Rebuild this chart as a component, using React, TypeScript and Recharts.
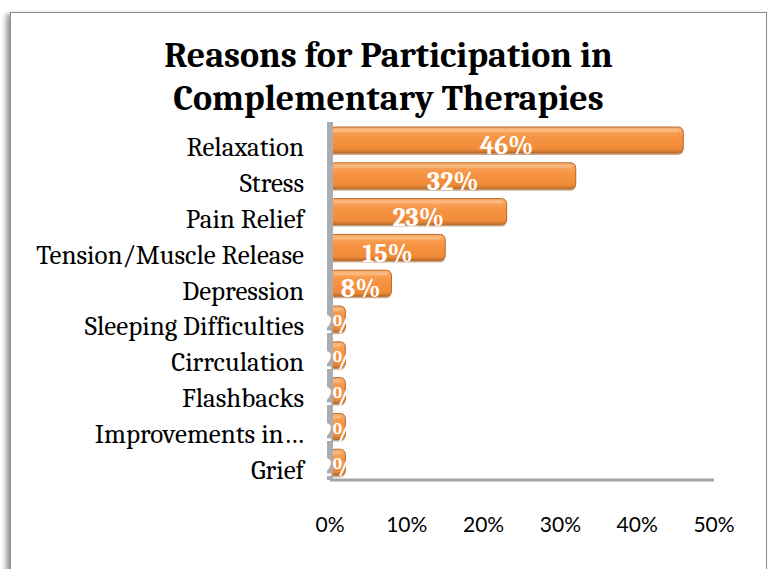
import React from 'react';
import { BarChart, Bar, XAxis, YAxis, LabelList } from 'recharts';

const categories = [
  'Relaxation',
  'Stress',
  'Pain Relief',
  'Tension/Muscle Release',
  'Depression',
  'Sleeping Difficulties',
  'Cirrculation',
  'Flashbacks',
  'Improvements in…',
  'Grief',
];
const shares = [46, 32, 23, 15, 8, 2, 2, 2, 2, 2];
const ticks = [0, 10, 20, 30, 40, 50];

const chartData = categories.map((name, i) => ({ name, value: shares[i] }));

const SERIF = 'Cambria, "DejaVu Serif", serif';

const Bar3D = (props: any) => {
  const { x, y, width, height } = props;
  if (width <= 0) return null;
  const r = Math.min(5, width / 2);
  return (
    <g>
      <rect x={x - 2} y={y + 2} width={width + 2} height={height} rx={r} fill="#9a5a22" opacity={0.5} />
      <rect x={x} y={y} width={width} height={height} rx={r} fill="url(#barGrad)" stroke="#b8692a" strokeWidth={1} />
      <rect x={x + 2} y={y + 2} width={Math.max(0, width - 6)} height={3} rx={1.5} fill="#fbc08a" opacity={0.7} />
    </g>
  );
};

const CategoryTick = (props: any) => {
  const { x, y, payload } = props;
  return (
    <text x={x} y={y + 7} dy="0.355em" textAnchor="end" fill="#000" fontSize={27} fontFamily={SERIF}>
      {payload.value}
    </text>
  );
};

const App: React.FC = () => {
  return (
    <div style={{ position: 'fixed', left: 0, top: 0, width: 774, height: 569, overflow: 'hidden', background: '#fff' }}>
      <div
        style={{
          position: 'absolute',
          left: 10,
          top: 12,
          width: 755,
          height: 620,
          border: '1px solid #8c8c8c',
          boxShadow: '-4px 2px 5px rgba(0,0,0,0.4)',
          background: '#fff',
        }}
      >
        <div
          style={{
            position: 'absolute',
            left: 0,
            top: 21,
            width: 755,
            textAlign: 'center',
            fontFamily: SERIF,
            fontWeight: 'bold',
            fontSize: 36,
            lineHeight: '43px',
            color: '#000',
          }}
        >
          Reasons for Participation in
          <br />
          Complementary Therapies
        </div>
        <BarChart
          width={755}
          height={556}
          data={chartData}
          layout="vertical"
          margin={{ top: 109, right: 52, bottom: 20, left: 0 }}
          barCategoryGap="14%"
          style={{ position: 'absolute', left: 0, top: 0 }}
        >
          <defs>
            <linearGradient id="barGrad" x1="0" y1="0" x2="0" y2="1">
              <stop offset="0%" stopColor="#f9b071" />
              <stop offset="35%" stopColor="#f79646" />
              <stop offset="85%" stopColor="#f08a38" />
              <stop offset="100%" stopColor="#c06f2c" />
            </linearGradient>
          </defs>
          <XAxis
            type="number"
            domain={[0, 50]}
            ticks={ticks}
            tickFormatter={(v) => `${v}%`}
            axisLine={{ stroke: '#a6a6a6', strokeWidth: 3 }}
            tickLine={false}
            tickSize={0}
            tickMargin={37}
            height={69}
            tick={{ fill: '#000', fontSize: 21, fontFamily: 'Lato, "Open Sans", sans-serif' }}
          />
          <YAxis
            type="category"
            dataKey="name"
            width={319}
            axisLine={{ stroke: '#a9acb0', strokeWidth: 6 }}
            tickLine={false}
            tickSize={0}
            tickMargin={26}
            interval={0}
            tick={<CategoryTick />}
          />
          <Bar dataKey="value" shape={<Bar3D />} isAnimationActive={false}>
            <LabelList
              dataKey="value"
              position="center"
              formatter={(v: any) => `${v}%`}
              fill="#fff"
              dy={5}
              style={{ fontFamily: SERIF, fontWeight: 'bold', fontSize: 26 }}
            />
          </Bar>
        </BarChart>
      </div>
    </div>
  );
};

export default App;
